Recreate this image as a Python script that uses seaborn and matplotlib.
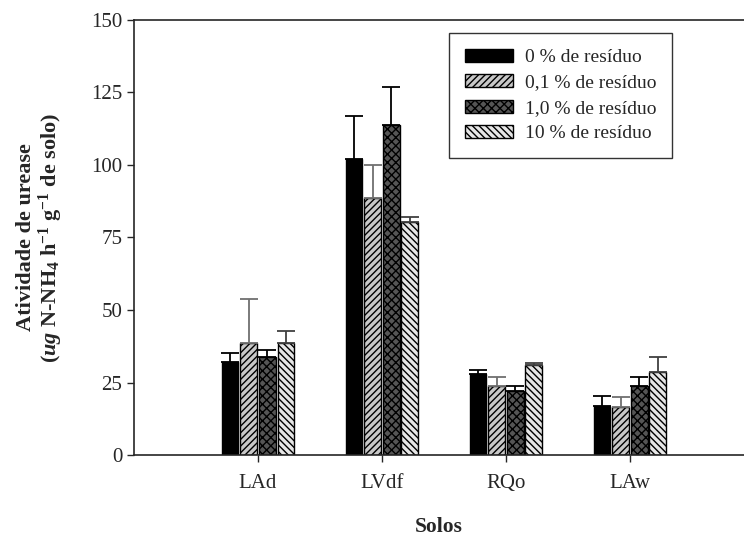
import numpy as np
import pandas as pd
import seaborn as sns
import matplotlib.pyplot as plt

solos = ["LAd", "LVdf", "RQo", "LAw"]
residuos = ["0 % de resíduo", "0,1 % de resíduo", "1,0 % de resíduo", "10 % de resíduo"]

# mean activity per soil, one list per residue level
res_0 = [32.0, 102.0, 27.8, 17.0]
res_01 = [38.7, 88.7, 23.7, 16.7]
res_10 = [33.8, 113.7, 21.9, 23.7]
res_100 = [38.7, 80.2, 31.0, 28.6]

# upper error (standard deviation)
err_0 = [3.3, 15.0, 1.5, 3.2]
err_01 = [15.0, 11.4, 3.3, 3.2]
err_10 = [2.3, 13.2, 1.8, 3.3]
err_100 = [4.0, 1.8, 0.8, 5.1]

means = [res_0, res_01, res_10, res_100]
errs = [err_0, err_01, err_10, err_100]

fills = ["#000000", "#c8c8c8", "#555555", "#e6e6e6"]
hatches = [None, "/////", "xxxx", "\\\\\\\\\\"]
err_colors = ["#000000", "#707070", "#000000", "#404040"]

rows = []
for lvl, vals in zip(residuos, means):
    for s, v in zip(solos, vals):
        rows.append({"Solos": s, "residuo": lvl, "atividade": v})
df = pd.DataFrame(rows)

sns.set_style("ticks")
plt.rcParams["font.family"] = ["Liberation Serif", "DejaVu Serif"]
plt.rcParams["mathtext.fontset"] = "custom"
plt.rcParams["mathtext.rm"] = "Liberation Serif"
plt.rcParams["mathtext.it"] = "Liberation Serif:italic"
plt.rcParams["mathtext.bf"] = "Liberation Serif:bold"
plt.rcParams["mathtext.bfit"] = "Liberation Serif:bold:italic"
plt.rcParams["hatch.linewidth"] = 1.0

fig = plt.figure(figsize=(7.44, 5.36), dpi=100)
ax = fig.add_axes([134 / 744, 1 - 455 / 536, 1 - 134 / 744, 435 / 536])

sns.barplot(data=df, x="Solos", y="atividade", hue="residuo", order=solos,
            hue_order=residuos, palette=fills, width=0.6, gap=0.1,
            edgecolor="black", linewidth=1.0, legend=False, ax=ax)

bar_groups = list(ax.containers)
for i, cont in enumerate(bar_groups):
    xs = []
    for p in cont.patches:
        p.set_facecolor(fills[i])
        p.set_edgecolor("black")
        if hatches[i]:
            p.set_hatch(hatches[i])
        xs.append(p.get_x() + p.get_width() / 2)
    ax.errorbar(xs, means[i], yerr=[np.zeros(len(errs[i])), errs[i]],
                fmt="none", ecolor=err_colors[i], elinewidth=1.3,
                capsize=6.5, capthick=1.3, zorder=1)

leg = ax.legend(bar_groups, residuos, loc="upper left",
                bbox_to_anchor=(449 / 744, 1 - 33 / 536),
                bbox_transform=fig.transFigure, borderaxespad=0,
                fontsize=14, frameon=True, fancybox=False, shadow=False,
                handlelength=2.5, handleheight=0.65, labelspacing=0.42,
                handletextpad=0.6, borderpad=0.8)
leg.get_frame().set_edgecolor("black")
leg.get_frame().set_linewidth(1.0)

ax.set_ylim(0, 150)
ax.set_yticks(np.arange(0, 151, 25))
ax.set_xlim(-1, 3.92)
ax.tick_params(axis="both", direction="out", length=5, width=1, labelsize=15)
ax.tick_params(axis="x", pad=9)
for side in ["left", "bottom", "top"]:
    ax.spines[side].set_visible(True)
    ax.spines[side].set_linewidth(1.2)
ax.spines["right"].set_visible(False)

ax.set_xlabel("Solos", fontsize=15.5, fontweight="bold", labelpad=17)
ax.set_ylabel("Atividade de urease\n"
              r"($\mathbfit{ug}$ N-NH$_\mathbf{4}$ h$^\mathbf{-1}$ g$^\mathbf{-1}$ de solo)",
              fontsize=16, fontweight="bold", labelpad=19, linespacing=1.0)

fig.savefig("out.png", dpi=100)
